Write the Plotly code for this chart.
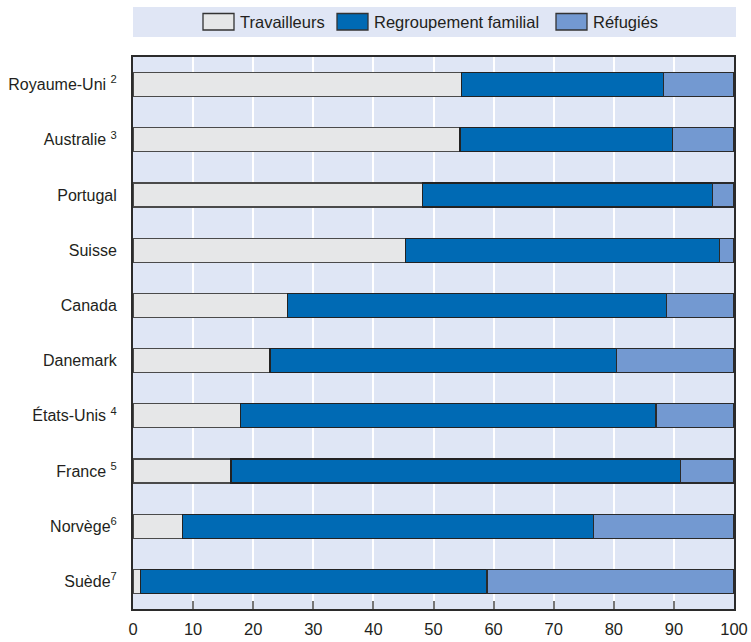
import plotly.graph_objects as go

# Countries, top to bottom
countries = ["Royaume-Uni", "Australie", "Portugal", "Suisse", "Canada",
             "Danemark", "États-Unis", "France", "Norvège", "Suède"]
country_labels = ["Royaume-Uni <sup>2</sup>", "Australie <sup>3</sup>", "Portugal", "Suisse",
                  "Canada", "Danemark", "États-Unis <sup>4</sup>", "France <sup>5</sup>",
                  "Norvège<sup>6</sup>", "Suède<sup>7</sup>"]

# Share of each entry category (%)
travailleurs = [54.7, 54.4, 48.2, 45.3, 25.7, 22.8, 17.9, 16.3, 8.2, 1.2]
regroupement = [33.6, 35.4, 48.2, 52.3, 63.1, 57.6, 69.1, 74.8, 68.4, 57.7]
refugies = [11.7, 10.2, 3.6, 2.4, 11.2, 19.6, 13.0, 8.9, 23.4, 41.1]

series_names = ["Travailleurs", "Regroupement familial", "Réfugiés"]
series_values = [travailleurs, regroupement, refugies]
series_colors = ["#e6e7e8", "#006ab4", "#7399d1"]
series_lines = ["#4a4a4a", "#222222", "#2a2a2a"]

x_ticks = [0, 10, 20, 30, 40, 50, 60, 70, 80, 90, 100]

FONT = "Liberation Sans, Arial, sans-serif"
TEXT = "#231f20"
W, H = 751, 642
L, R, T, B = 133, 17, 57, 33
plot_w = W - L - R
plot_h = H - T - B


def px_x(px):
    return (px - L) / plot_w


def px_y(py):
    return (H - B - py) / plot_h


fig = go.Figure()
for name, vals, col, lc in zip(series_names, series_values, series_colors, series_lines):
    fig.add_trace(go.Bar(
        y=countries, x=vals, name=name, orientation="h",
        marker=dict(color=col, line=dict(color=lc, width=1.3)),
        showlegend=False,
    ))

# Legend band above the plot
shapes = [dict(type="rect", xref="paper", yref="paper",
               x0=px_x(133), x1=px_x(736), y0=px_y(37), y1=px_y(7),
               fillcolor="#e0e6f5", line=dict(width=0), layer="below")]
annotations = []
legend_box_x = [203, 337, 556]
for name, col, bx in zip(series_names, series_colors, legend_box_x):
    shapes.append(dict(type="rect", xref="paper", yref="paper",
                       x0=px_x(bx), x1=px_x(bx + 31), y0=px_y(30), y1=px_y(13.5),
                       fillcolor=col, line=dict(color="#333333", width=1.3)))
    annotations.append(dict(xref="paper", yref="paper", x=px_x(bx + 35), y=px_y(22),
                            xanchor="left", yanchor="middle", text=name, showarrow=False,
                            font=dict(family=FONT, size=16.5, color=TEXT)))

fig.update_layout(
    barmode="stack",
    bargap=0.565,
    width=W, height=H,
    margin=dict(l=L, r=R, t=T, b=B, pad=0),
    paper_bgcolor="white",
    plot_bgcolor="#dfe6f5",
    font=dict(family=FONT, size=16, color=TEXT),
    shapes=shapes,
    annotations=annotations,
    xaxis=dict(range=[0, 100], tickvals=x_ticks, ticktext=[str(v) for v in x_ticks],
               showgrid=True, gridcolor="white", gridwidth=1.5,
               ticks="inside", ticklen=8, tickcolor="#777777", tickwidth=1.5,
               showline=True, linecolor="#2b2b2b", linewidth=2, mirror=True,
               zeroline=False, ticklabelstandoff=4, automargin=False,
               tickfont=dict(family=FONT, size=16.5, color=TEXT)),
    yaxis=dict(categoryorder="array", categoryarray=countries, autorange="reversed",
               tickvals=countries, ticktext=country_labels,
               showgrid=False, ticks="", ticklabelstandoff=11, automargin=False,
               showline=True, linecolor="#2b2b2b", linewidth=2, mirror=True,
               tickfont=dict(family=FONT, size=16, color=TEXT)),
)

fig.write_html("out.html")
